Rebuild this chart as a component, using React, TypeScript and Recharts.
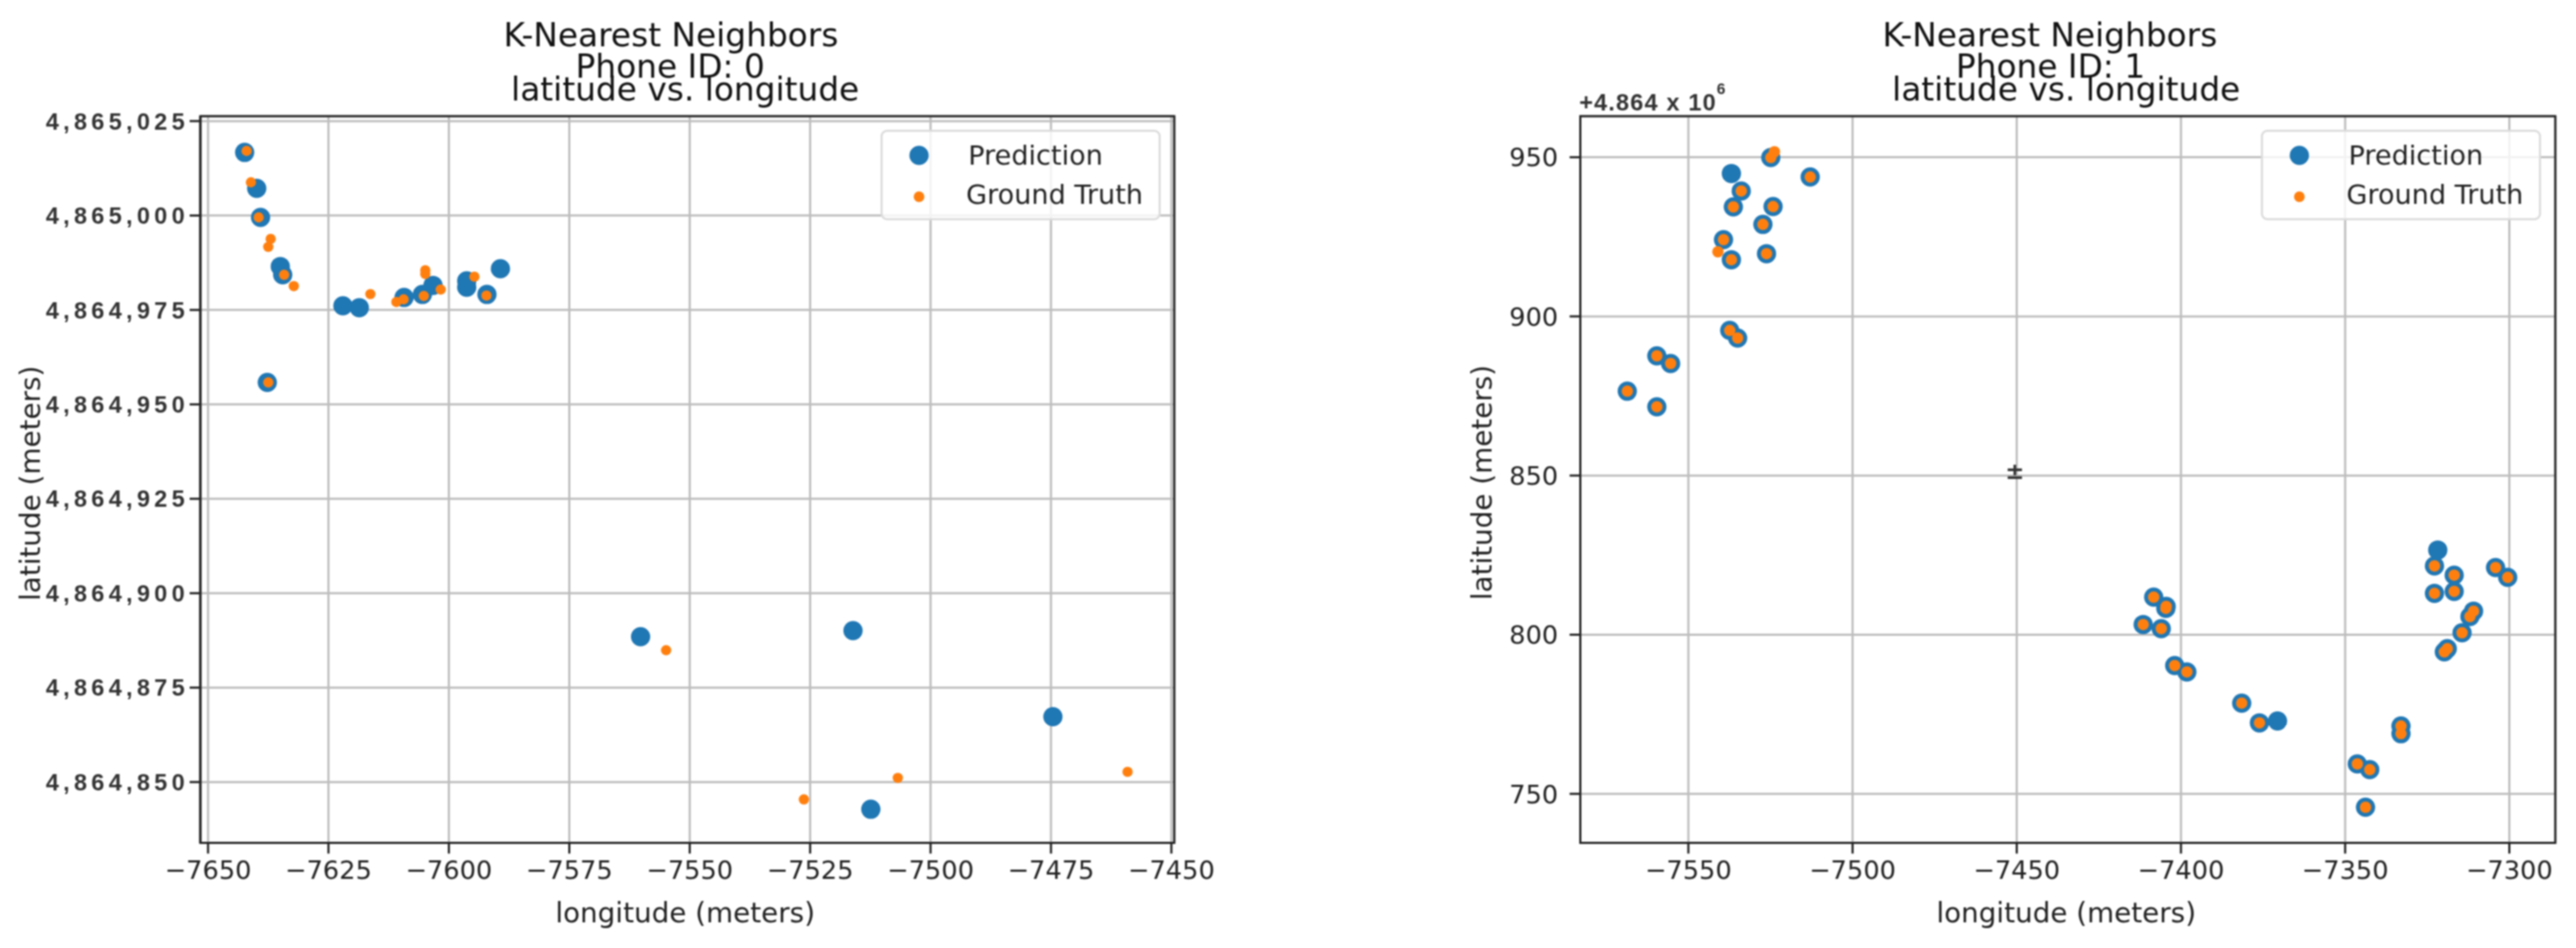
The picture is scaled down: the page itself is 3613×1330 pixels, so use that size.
import { CartesianGrid, ReferenceArea, ReferenceDot, Scatter, ScatterChart, XAxis, YAxis } from "recharts";

const BLUE = "#1f77b4";
const ORANGE = "#ff7f0e";
const GRID_COLOR = "#bdbdbd";
const SPINE_COLOR = "#222222";
const FONT = "'DejaVu Sans'";

// phone 0
const predLon0 = [-7642.4, -7639.9, -7639.1, -7635, -7634.5, -7637.7, -7622, -7618.6, -7609.3, -7605.5, -7603.3, -7596.3, -7596.3, -7592.1, -7589.3, -7560.2, -7516.1, -7512.4, -7474.6];
const predLat0 = [4865016.7, 4865007.2, 4864999.5, 4864986.5, 4864984.3, 4864955.8, 4864976.1, 4864975.6, 4864978.3, 4864979.1, 4864981.5, 4864982.7, 4864981, 4864979.1, 4864985.9, 4864888.5, 4864890.1, 4864842.8, 4864867.3];
const truthLon0 = [-7642, -7641.1, -7639.5, -7637, -7637.5, -7634.2, -7632.2, -7637.5, -7616.3, -7610.9, -7609.4, -7605.2, -7604.9, -7604.9, -7601.7, -7594.7, -7592.2, -7554.9, -7526.3, -7506.8, -7459.1];
const truthLat0 = [4865017.1, 4865008.8, 4864999.5, 4864993.8, 4864991.7, 4864984.3, 4864981.3, 4864955.8, 4864979.2, 4864977.1, 4864977.8, 4864978.7, 4864985.5, 4864984.5, 4864980.4, 4864983.8, 4864978.8, 4864884.9, 4864845.4, 4864851.1, 4864852.7];

// phone 1, latitudes are offsets from 4.864e6 like the axis
const predLon1 = [-7568.6, -7559.6, -7555.4, -7559.6, -7537.4, -7535, -7536.9, -7539.3, -7526.2, -7527.3, -7536.3, -7524.2, -7533.9, -7536.9, -7524.9, -7512.9, -7321.8, -7322.8, -7316.8, -7322.8, -7316.8, -7304.2, -7300.5, -7310.9, -7312, -7314.4, -7318.9, -7319.8, -7408.3, -7404.5, -7404.6, -7411.5, -7406, -7401.9, -7398.2, -7381.5, -7376.1, -7370.6, -7333, -7333, -7346.3, -7342.5, -7343.8];
const predLat1 = [876.5, 887.6, 885.2, 871.6, 895.6, 893.2, 917.8, 924.1, 919.7, 928.9, 934.4, 934.5, 939.4, 944.9, 949.9, 943.8, 826.6, 821.6, 818.7, 813, 813.6, 821.1, 818, 807.4, 805.7, 800.6, 795.6, 794.6, 811.8, 808.9, 808.3, 803.2, 801.9, 790.3, 788.3, 778.5, 772.3, 772.9, 771.3, 768.9, 759.4, 757.6, 745.8];
const truthLon1 = [-7568.6, -7559.6, -7555.4, -7559.6, -7537.4, -7535, -7536.9, -7539.3, -7541, -7526.2, -7527.3, -7536.3, -7524.2, -7533.9, -7524.9, -7523.8, -7512.9, -7322.8, -7316.8, -7322.8, -7316.8, -7304.2, -7300.5, -7310.9, -7312, -7314.4, -7318.9, -7319.8, -7408.3, -7404.5, -7404.6, -7411.5, -7406, -7401.9, -7398.2, -7381.5, -7376.1, -7333, -7333, -7346.3, -7342.5, -7343.8];
const truthLat1 = [876.5, 887.6, 885.2, 871.6, 895.6, 893.2, 917.8, 924.1, 920.3, 919.7, 928.9, 934.4, 934.5, 939.4, 949.9, 951.7, 943.8, 821.6, 818.7, 813, 813.6, 821.1, 818, 807.4, 805.7, 800.6, 795.6, 794.6, 811.8, 808.9, 808.3, 803.2, 801.9, 790.3, 788.3, 778.5, 772.3, 771.3, 768.9, 759.4, 757.6, 745.8];

const xTicks0 = [-7650, -7625, -7600, -7575, -7550, -7525, -7500, -7475, -7450];
const yTicks0 = [4864850, 4864875, 4864900, 4864925, 4864950, 4864975, 4865000, 4865025];
const xTicks1 = [-7550, -7500, -7450, -7400, -7350, -7300];
const yTicks1 = [750, 800, 850, 900, 950];

const xDomain0: [number, number] = [-7651.6, -7449.4];
const yDomain0: [number, number] = [4864833.9, 4865026.3];
const xDomain1: [number, number] = [-7582.9, -7286];
const yDomain1: [number, number] = [734.6, 962.9];

// stray glyph sitting on the 850 gridline of the right panel
const strayMark = { x: -7450.6, y: 851, text: "±" };

const zip = (xs: number[], ys: number[]) => xs.map((x, i) => ({ x, y: ys[i] }));
const minus = (v: number) => String(v).replace("-", "\u2212");
const commas = (v: number) => v.toLocaleString("en-US");

const dot = (r: number, fill: string) => (p: any) => <circle cx={p.cx} cy={p.cy} r={r} fill={fill} />;

function LegendBox({ left }: { left: number }) {
  return (
    <div
      style={{
        position: "absolute",
        left,
        top: 182,
        width: 393,
        height: 127,
        boxSizing: "border-box",
        border: "3px solid #dcdcdc",
        borderRadius: 9,
        background: "rgba(255,255,255,0.8)",
        fontFamily: FONT,
        fontSize: 38,
        color: "#222",
      }}
    >
      <svg width={80} height={121} style={{ position: "absolute", left: 28, top: 0 }}>
        <circle cx={23} cy={33} r={13.5} fill={BLUE} />
        <circle cx={23} cy={91} r={7.5} fill={ORANGE} />
      </svg>
      <div style={{ position: "absolute", left: 120, top: 10, lineHeight: "46px" }}>Prediction</div>
      <div style={{ position: "absolute", left: 117, top: 65, lineHeight: "46px", whiteSpace: "nowrap" }}>Ground Truth</div>
    </div>
  );
}

function Panel({
  left,
  width,
  plotLeft,
  plotRight,
  pred,
  truth,
  truthSize,
  xTicks,
  yTicks,
  xDomain,
  yDomain,
  yTick,
  yFormat,
  tickMargin,
  children,
}: any) {
  const yAxisWidth = 200;
  return (
    <div style={{ position: "absolute", left, top: 0, width, height: 1330 }}>
      <ScatterChart
        width={width}
        height={1330}
        margin={{ left: plotLeft - yAxisWidth, right: width - plotRight, top: 163, bottom: 0 }}
      >
        <CartesianGrid stroke={GRID_COLOR} strokeWidth={3} />
        <XAxis
          type="number"
          dataKey="x"
          domain={xDomain}
          ticks={xTicks}
          tickFormatter={minus}
          height={147.5}
          tickSize={15}
          tickMargin={10}
          interval={0}
          axisLine={{ stroke: SPINE_COLOR, strokeWidth: 3 }}
          tickLine={{ stroke: SPINE_COLOR, strokeWidth: 3 }}
          tick={{ fontFamily: FONT, fontSize: 36, fill: "#222" }}
        />
        <YAxis
          type="number"
          dataKey="y"
          domain={yDomain}
          ticks={yTicks}
          tickFormatter={yFormat}
          width={yAxisWidth}
          tickSize={15}
          tickMargin={tickMargin}
          interval={0}
          axisLine={{ stroke: SPINE_COLOR, strokeWidth: 3 }}
          tickLine={{ stroke: SPINE_COLOR, strokeWidth: 3 }}
          tick={yTick}
        />
        <ReferenceArea
          x1={xDomain[0]}
          x2={xDomain[1]}
          y1={yDomain[0]}
          y2={yDomain[1]}
          fill="none"
          stroke={SPINE_COLOR}
          strokeWidth={3}
        />
        <Scatter data={pred} isAnimationActive={false} shape={dot(13.5, BLUE)} />
        <Scatter data={truth} isAnimationActive={false} shape={dot(truthSize, ORANGE)} />
        {children}
      </ScatterChart>
    </div>
  );
}

function Titles() {
  const title = { fontFamily: FONT, fontSize: 46, fill: "#111", textAnchor: "middle" } as const;
  const axis = { fontFamily: FONT, fontSize: 39, fill: "#222", textAnchor: "middle" } as const;
  return (
    <svg width={3613} height={1330} style={{ position: "absolute", left: 0, top: 0, pointerEvents: "none" }}>
      <text x={941} y={65} {...title}>K-Nearest Neighbors</text>
      <text x={940} y={109} {...title}>Phone ID: 0</text>
      <text x={961} y={141} {...title}>latitude vs. longitude</text>
      <text x={961} y={1294} {...axis}>longitude (meters)</text>
      <text transform="translate(56,678) rotate(-90)" {...axis}>latitude (meters)</text>

      <text x={2875} y={65} {...title}>K-Nearest Neighbors</text>
      <text x={2876} y={109} {...title}>Phone ID: 1</text>
      <text x={2898} y={141} {...title}>latitude vs. longitude</text>
      <text x={2898} y={1294} {...axis}>longitude (meters)</text>
      <text transform="translate(2092,677) rotate(-90)" {...axis}>latitude (meters)</text>

      <text x={2215} y={155} fontFamily="'Liberation Sans'" fontWeight={700} fontSize={33} letterSpacing={1.6} fill="#333">
        +4.864 x 10
        <tspan fontSize={22} dy={-23}>6</tspan>
      </text>
    </svg>
  );
}

export default function App() {
  return (
    <div style={{ position: "absolute", left: 0, top: 0, width: 3613, height: 1330, background: "#fff", overflow: "hidden", filter: "blur(1px)" }}>
      <Panel
        left={0}
        width={1806}
        plotLeft={281}
        plotRight={1647}
        pred={zip(predLon0, predLat0)}
        truth={zip(truthLon0, truthLat0)}
        truthSize={7.2}
        xTicks={xTicks0}
        yTicks={yTicks0}
        xDomain={xDomain0}
        yDomain={yDomain0}
        yFormat={commas}
        tickMargin={1}
        yTick={{ fontFamily: "'Liberation Sans'", fontWeight: 700, fontSize: 33, letterSpacing: 6, fill: "#333" }}
      />
      <Panel
        left={1806}
        width={1807}
        plotLeft={410.5}
        plotRight={1778}
        pred={zip(predLon1, predLat1)}
        truth={zip(truthLon1, truthLat1)}
        truthSize={8}
        xTicks={xTicks1}
        yTicks={yTicks1}
        xDomain={xDomain1}
        yDomain={yDomain1}
        yFormat={String}
        tickMargin={16}
        yTick={{ fontFamily: FONT, fontSize: 36, fill: "#222" }}
      >
        <ReferenceDot
          x={strayMark.x}
          y={strayMark.y}
          r={0}
          shape={(p: any) => (
            <text x={p.cx} y={p.cy + 9} textAnchor="middle" fontFamily={FONT} fontWeight={700} fontSize={32} fill="#333">
              {strayMark.text}
            </text>
          )}
        />
      </Panel>
      <LegendBox left={1235} />
      <LegendBox left={3171} />
      <Titles />
    </div>
  );
}
